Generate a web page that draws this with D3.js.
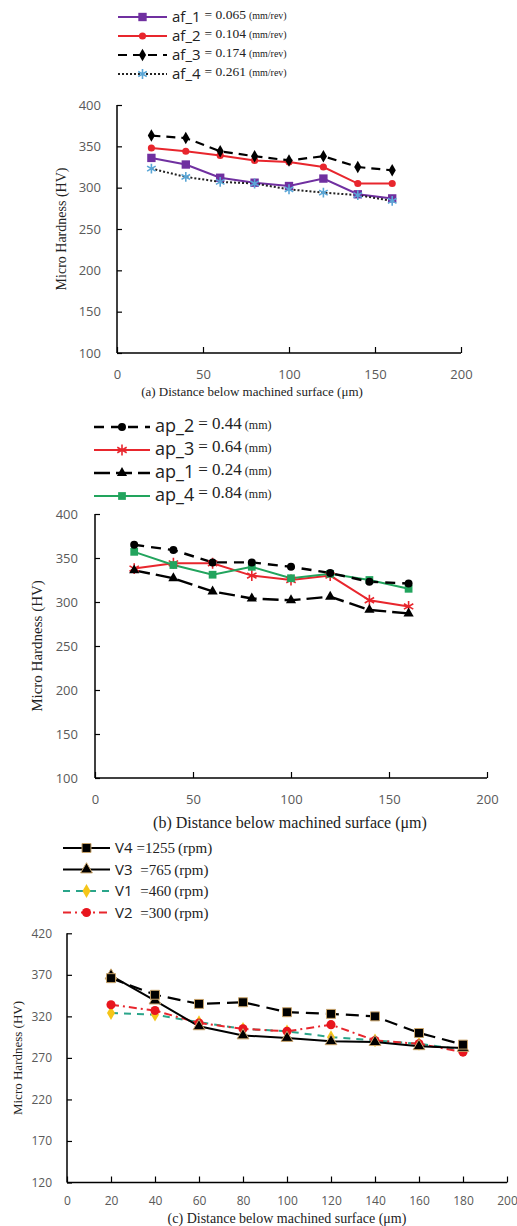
<!DOCTYPE html>
<html>
<head>
<meta charset="utf-8">
<script src="https://cdn.jsdelivr.net/npm/d3@7"></script>
<style>
  body { margin: 0; background: #fff; }
  .tick-lbl { font-family: "Open Sans", sans-serif; fill: #595959; }
  .ser { font-family: "Liberation Serif", serif; }
</style>
</head>
<body>
<div id="chart"></div>
<script>
// ---- data ----
var depthA = [20, 40, 60, 80, 100, 120, 140, 160];
var af1 = [336, 328, 312, 306, 302, 311, 292, 287];
var af2 = [348, 344, 339, 333, 331, 325, 305, 305];
var af3 = [363, 360, 344, 338, 333, 338, 325, 321];
var af4 = [323, 313, 307, 305, 298, 294, 291, 284];

var depthB = [20, 40, 60, 80, 100, 120, 140, 160];
var ap2 = [365, 359, 345, 345, 340, 333, 323, 321];
var ap3 = [338, 344, 344, 330, 325, 330, 302, 295];
var ap1 = [336, 327, 312, 304, 302, 306, 291, 287];
var ap4 = [357, 342, 331, 340, 327, 332, 325, 315];

var depthC = [20, 40, 60, 80, 100, 120, 140, 160, 180];
var v4 = [366, 346, 335, 337, 325, 323, 320, 300, 286];
var v3 = [369, 339, 308, 297, 294, 290, 289, 284, 282];
var v1 = [324, 322, 313, 305, 302, 295, 291, 287, 280];
var v2 = [334, 327, 312, 305, 302, 310, 291, 287, 277];

var xTicksAB = [0, 50, 100, 150, 200];
var yTicksAB = [100, 150, 200, 250, 300, 350, 400];
var xTicksC = [0, 20, 40, 60, 80, 100, 120, 140, 160, 180, 200];
var yTicksC = [120, 170, 220, 270, 320, 370, 420];

var svg = d3.select("#chart").append("svg")
  .attr("width", 517).attr("height", 1226);

// asterisk marker
var asterisk = {
  draw: function (ctx, size) {
    var r = Math.sqrt(size) * 0.7;
    for (var i = 0; i < 3; i++) {
      var a = Math.PI / 2 + i * Math.PI / 3;
      ctx.moveTo(-r * Math.cos(a), -r * Math.sin(a));
      ctx.lineTo(r * Math.cos(a), r * Math.sin(a));
    }
  }
};

function drawMarker(g, m, x, y) {
  var type = { square: d3.symbolSquare, circle: d3.symbolCircle, diamond: d3.symbolDiamond,
    triangle: d3.symbolTriangle, star: asterisk }[m.shape];
  var p = g.append("path")
    .attr("d", d3.symbol().type(type).size(m.size)())
    .attr("transform", "translate(" + x + "," + y + ")");
  if (m.shape == "star") {
    p.attr("fill", "none").attr("stroke", m.fill).attr("stroke-width", 1.6);
  } else {
    p.attr("fill", m.fill).attr("stroke", m.stroke || "none").attr("stroke-width", 1);
  }
}

function drawPanel(p) {
  var g = svg.append("g");
  var x = d3.scaleLinear().domain(p.xDomain).range(p.xRange);
  var y = d3.scaleLinear().domain(p.yDomain).range(p.yRange);

  // axes
  var xAxis = g.append("g").attr("transform", "translate(0," + p.yRange[0] + ")")
    .call(d3.axisBottom(x).tickValues(p.xTicks).tickSize(-6).tickPadding(p.xPad).tickFormat(d3.format("d")));
  var yAxis = g.append("g").attr("transform", "translate(" + p.xRange[0] + ",0)")
    .call(d3.axisLeft(y).tickValues(p.yTicks).tickSize(-5).tickPadding(p.yPad).tickFormat(d3.format("d")));
  [xAxis, yAxis].forEach(function (a) {
    a.select(".domain").attr("stroke", "#000").attr("stroke-width", 1.5);
    a.selectAll(".tick line").attr("stroke", "#000").attr("stroke-width", 1.2);
    a.selectAll(".tick text").attr("class", "tick-lbl").attr("font-family", null)
      .attr("font-size", p.tickSize);
  });
  yAxis.select(".domain").attr("d", "M0," + p.yRange[0] + "V" + p.yRange[1]);
  xAxis.select(".domain").attr("d", "M" + p.xRange[0] + ",0H" + p.xRange[1]);

  // titles
  g.append("text").attr("class", "ser")
    .attr("transform", "translate(" + p.yTitleX + "," + p.yTitleY + ") rotate(-90)")
    .attr("text-anchor", "middle").attr("font-size", p.yTitleSize).attr("fill", "#222")
    .text("Micro Hardness (HV)");
  g.append("text").attr("class", "ser")
    .attr("x", p.xTitleX).attr("y", p.xTitleY)
    .attr("text-anchor", "middle").attr("font-size", p.xTitleSize).attr("fill", "#222")
    .text(p.xTitle);

  // series
  p.series.forEach(function (s) {
    var pts = p.depth.map(function (d, i) { return [x(d), y(s.values[i])]; });
    g.append("path").attr("d", d3.line()(pts))
      .attr("fill", "none").attr("stroke", s.color).attr("stroke-width", s.width)
      .attr("stroke-dasharray", s.dash);
  });
  p.series.forEach(function (s) {
    p.depth.forEach(function (d, i) { drawMarker(g, s.marker, x(d), y(s.values[i])); });
  });

  // legend
  var L = p.legend;
  p.series.slice().sort(function (a, b) { return a.order - b.order; }).forEach(function (s, i) {
    var ly = L.y + i * L.step;
    g.append("line").attr("x1", L.x).attr("x2", L.x + L.len).attr("y1", ly).attr("y2", ly)
      .attr("stroke", s.legendLine || s.color).attr("stroke-width", s.width)
      .attr("stroke-dasharray", s.legendDash === undefined ? s.dash : s.legendDash);
    drawMarker(g, s.marker, L.x + L.len / 2, ly);
    var t = g.append("text").attr("x", L.x + L.len + 5).attr("y", ly + 5).attr("fill", "#222");
    t.append("tspan").attr("font-family", "'Open Sans', sans-serif").attr("font-size", L.nameSize).text(s.name);
    t.append("tspan").attr("class", "ser").attr("font-size", L.valSize).attr("dy", L.valDy)
      .attr("dx", 4).text(s.value);
    t.append("tspan").attr("class", "ser").attr("font-size", L.unitSize).attr("dx", 3).text(s.unit);
  });
}

drawPanel({
  depth: depthA, xDomain: [0, 200], yDomain: [100, 400], xRange: [117, 461], yRange: [353, 105],
  xTicks: xTicksAB, yTicks: yTicksAB, yPad: 16, xPad: 17, tickSize: 13,
  yTitleX: 66, yTitleY: 229, yTitleSize: 14,
  xTitle: "(a) Distance below machined surface (\u03bcm)", xTitleX: 252, xTitleY: 396, xTitleSize: 13,
  legend: { x: 118, y: 17, step: 19, len: 49, nameSize: 15, valSize: 13.5, valDy: -3, unitSize: 10 },
  series: [
    { name: "af_1", value: "= 0.065", unit: "(mm/rev)", values: af1, color: "#7030a0", width: 2, dash: null, order: 0,
      marker: { shape: "square", size: 70, fill: "#7030a0" } },
    { name: "af_2", value: "= 0.104", unit: "(mm/rev)", values: af2, color: "#e8262d", width: 2, dash: null, order: 1,
      marker: { shape: "circle", size: 40, fill: "#e8262d" } },
    { name: "af_3", value: "= 0.174", unit: "(mm/rev)", values: af3, color: "#000", width: 2.2, dash: "9,6", order: 2,
      marker: { shape: "diamond", size: 45, fill: "#000" } },
    { name: "af_4", value: "= 0.261", unit: "(mm/rev)", values: af4, color: "#222", width: 2, dash: "2,2", order: 3,
      marker: { shape: "star", size: 50, fill: "#5aa6d6" } }
  ]
});

drawPanel({
  depth: depthB, xDomain: [0, 200], yDomain: [100, 400], xRange: [95, 487], yRange: [778, 514],
  xTicks: xTicksAB, yTicks: yTicksAB, yPad: 17, xPad: 17, tickSize: 13,
  yTitleX: 42, yTitleY: 646, yTitleSize: 15,
  xTitle: "(b) Distance below machined  surface (\u03bcm)", xTitleX: 290, xTitleY: 828, xTitleSize: 16,
  legend: { x: 94, y: 427, step: 23, len: 56, nameSize: 18, valSize: 17, valDy: -3, unitSize: 12 },
  series: [
    { name: "ap_3", value: "= 0.64", unit: "(mm)", values: ap3, color: "#e8262d", width: 2, dash: null, order: 1,
      marker: { shape: "star", size: 60, fill: "#e8262d" } },
    { name: "ap_4", value: "= 0.84", unit: "(mm)", values: ap4, color: "#22a45d", width: 2, dash: null, order: 3,
      marker: { shape: "square", size: 60, fill: "#22a45d" } },
    { name: "ap_2", value: "= 0.44", unit: "(mm)", values: ap2, color: "#000", width: 2.4, dash: "10,7", order: 0,
      marker: { shape: "circle", size: 50, fill: "#000" } },
    { name: "ap_1", value: "= 0.24", unit: "(mm)", values: ap1, color: "#000", width: 2.4, dash: "16,6", order: 2,
      marker: { shape: "triangle", size: 45, fill: "#000" } }
  ]
});

drawPanel({
  depth: depthC, xDomain: [0, 200], yDomain: [120, 420], xRange: [67, 507], yRange: [1182.5, 933.3],
  xTicks: xTicksC, yTicks: yTicksC, yPad: 15, xPad: 14, tickSize: 12,
  yTitleX: 22, yTitleY: 1058, yTitleSize: 13,
  xTitle: "(c) Distance below machined surface (\u03bcm)", xTitleX: 287, xTitleY: 1223, xTitleSize: 14,
  legend: { x: 63, y: 848, step: 21.5, len: 47, nameSize: 15, valSize: 15, valDy: 0, unitSize: 15 },
  series: [
    { name: "V1", value: " =460", unit: "(rpm)", values: v1, color: "#2aa58a", width: 2, dash: "7,6", order: 2,
      marker: { shape: "diamond", size: 55, fill: "#f5c518" } },
    { name: "V2", value: " =300", unit: "(rpm)", values: v2, color: "#e8262d", width: 2, dash: "8,4,2,4", order: 3,
      marker: { shape: "circle", size: 65, fill: "#e8161e" } },
    { name: "V3", value: " =765", unit: "(rpm)", values: v3, color: "#000", width: 2, dash: null, order: 1,
      marker: { shape: "triangle", size: 60, fill: "#000", stroke: "#c9a46a" } },
    { name: "V4", value: "=1255", unit: "(rpm)", values: v4, color: "#000", width: 2.2, dash: "13,7", order: 0, legendDash: null,
      marker: { shape: "square", size: 80, fill: "#000", stroke: "#c9a46a" } }
  ]
});
</script>
</body>
</html>
